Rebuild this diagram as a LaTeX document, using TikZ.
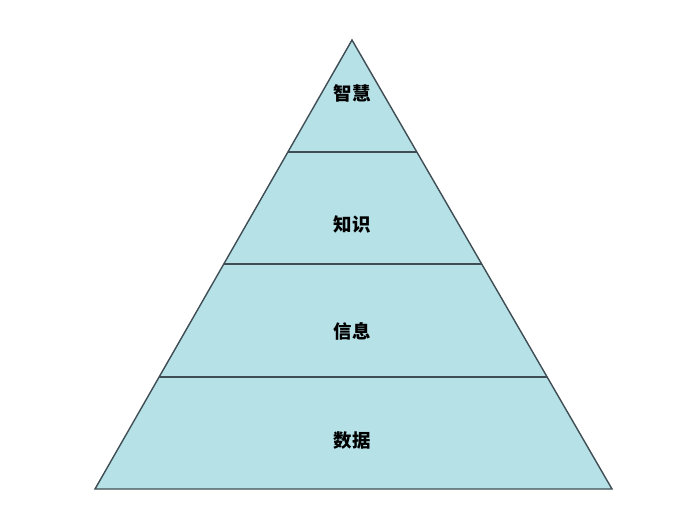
\documentclass[tikz,border=0pt]{standalone}
\usepackage{fontspec}
\newfontfamily\cjk{Noto Sans CJK SC}
\usepackage{xcolor}
\definecolor{layerfill}{RGB}{182,225,231}
\definecolor{layerline}{RGB}{62,78,84}
\usepackage{tikz}
\usetikzlibrary{calc}
\tikzstyle{layer} = [
    fill=layerfill,
    draw=layerline,
    line width=0.8pt,
    line join=miter,
]
\tikzstyle{divider} = [
    draw=layerline,
    line width=0.8pt,
]
\tikzstyle{layertext} = [
    text centered,
    font=\cjk\bfseries\fontsize{10.5}{12}\selectfont,
]

\begin{document}
\begin{tikzpicture}[x=0.02cm,y=-0.02cm]
    \useasboundingbox (0,0) rectangle (700,504);

    % corners
    \coordinate (apex) at (352,40);
    \foreach \y [count=\i] in {152,264,377,489} {
        \coordinate (left\i) at ({352-(257/449)*(\y-40)},\y);
        \coordinate (right\i) at ({352+(260/449)*(\y-40)},\y);
    }

    % pyramid
    \draw [layer] (apex) -- (right4) -- (left4) -- cycle;
    \foreach \i in {1,2,3} {
        \draw [divider] (left\i) -- (right\i);
    }

    % labels
    \foreach \word/\y [count=\i] in {智慧/93, 知识/224, 信息/331, 数据/441} {
        \node (text\i) at (352,\y) [layertext] {\word};
    }

\end{tikzpicture}
\end{document}
